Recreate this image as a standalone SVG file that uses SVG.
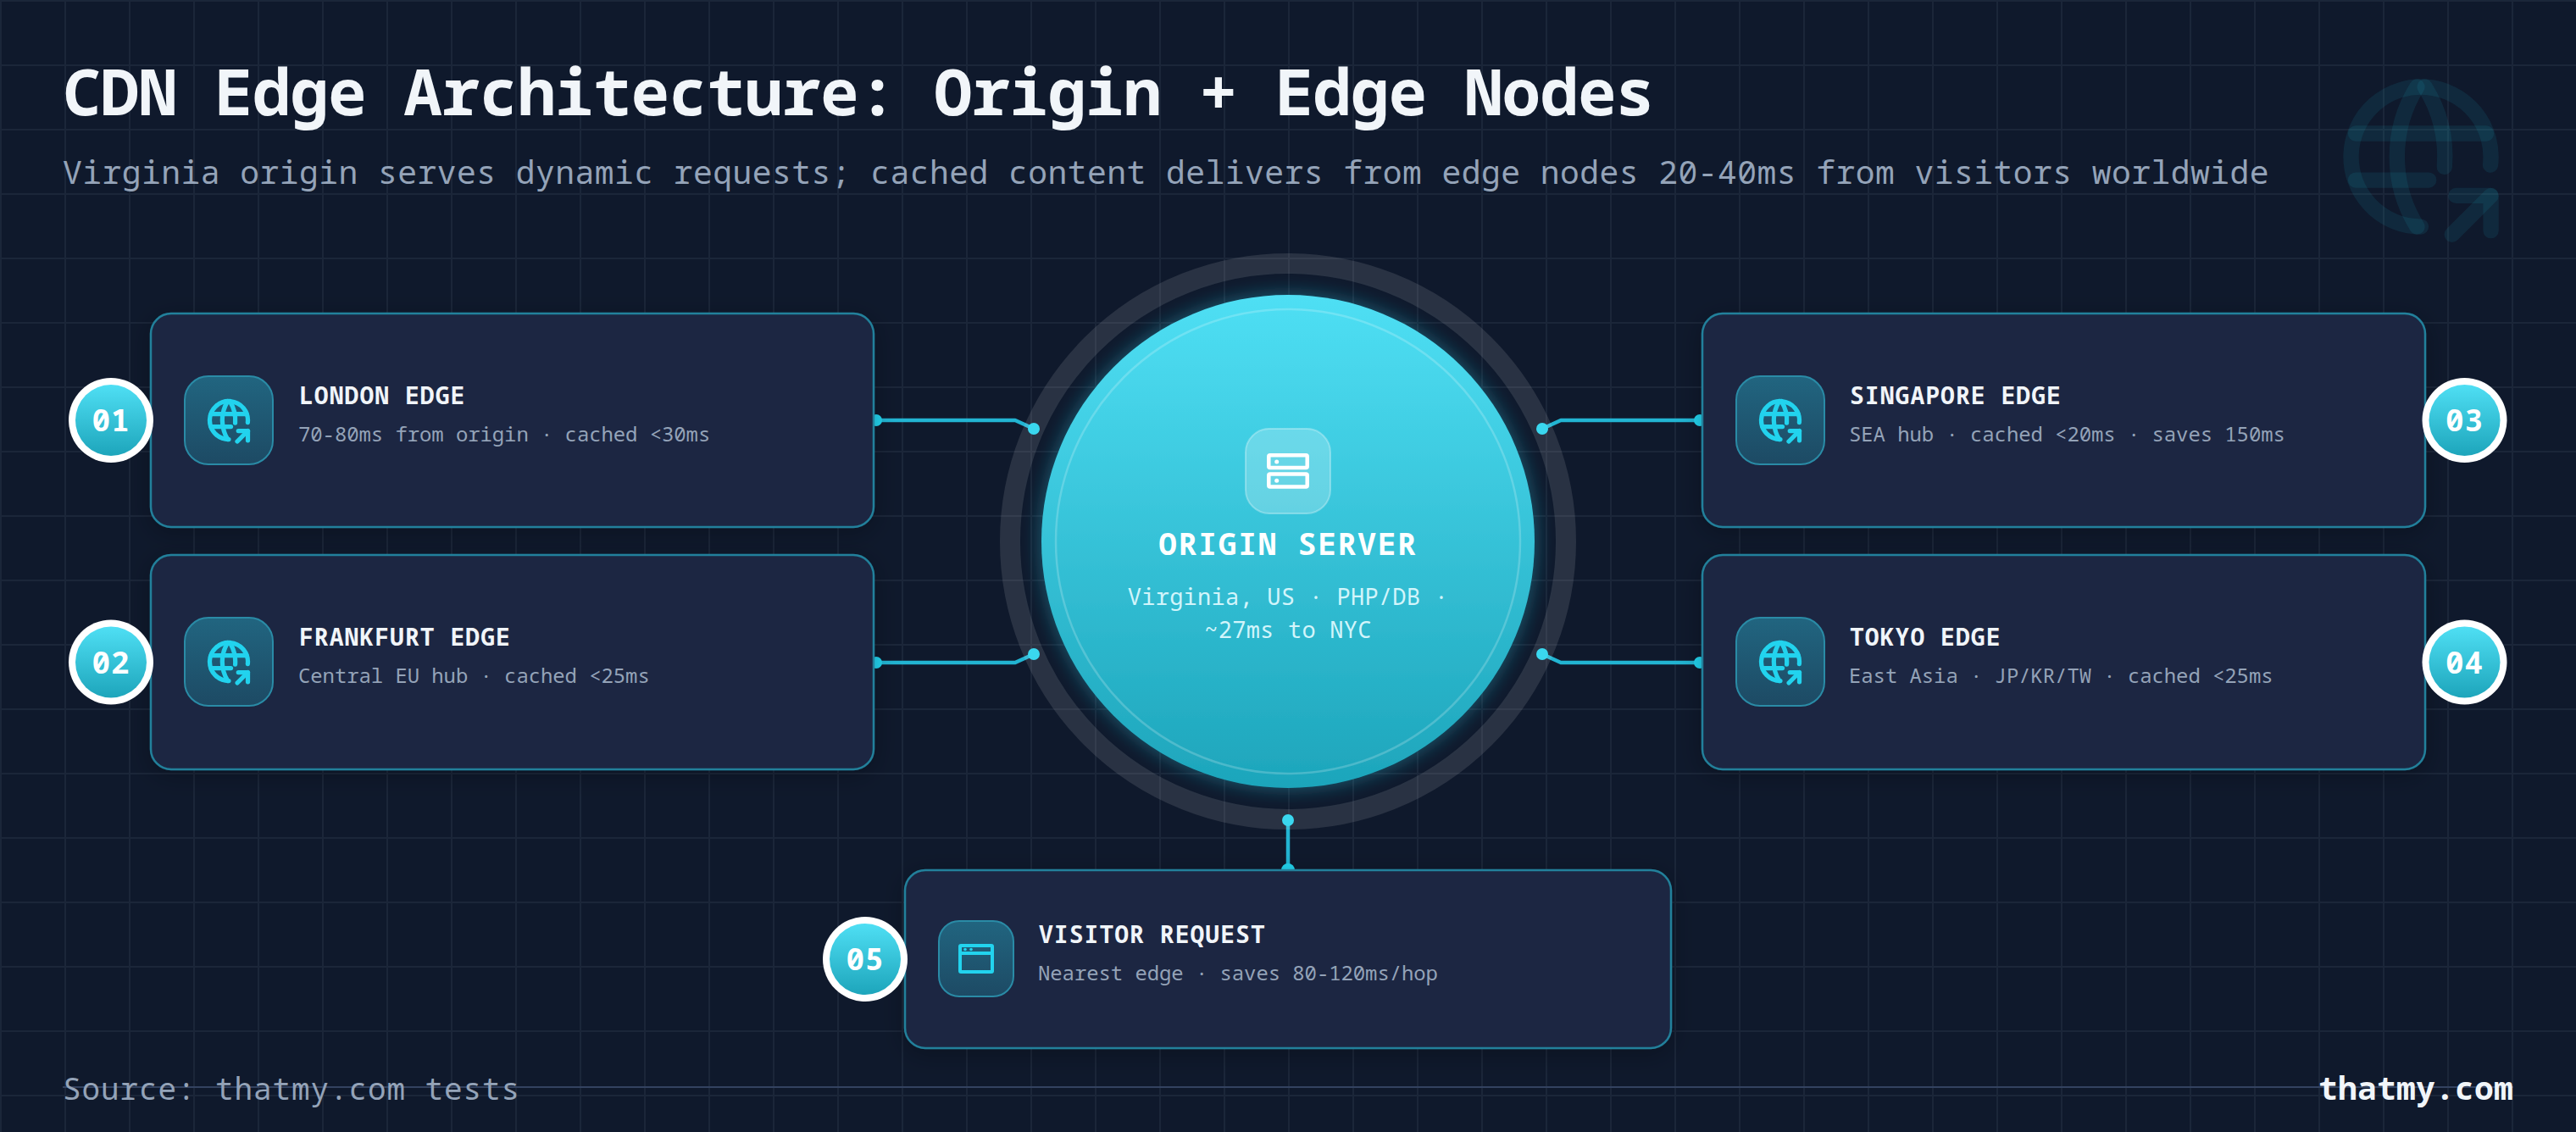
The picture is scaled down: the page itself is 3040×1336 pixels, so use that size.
<svg xmlns="http://www.w3.org/2000/svg" width="3040" height="1336" viewBox="0 0 3040 1336">
<style>
text{font-family:"Noto Sans Mono","DejaVu Sans Mono",monospace}
.card{fill:#1b2842;stroke:#22809b;stroke-width:2.5;filter:url(#cs)}
.ibox{fill:url(#ig);stroke:#2a8ba6;stroke-width:2}
.ic{fill:none;stroke:#22d3ee;stroke-width:2.100;stroke-linecap:round;stroke-linejoin:round}
.t{font-size:28px;font-weight:700;fill:#f1f5f9;letter-spacing:1.050px}
.s{font-size:24px;fill:#94a3b8;letter-spacing:-.1px}
.bo{fill:#fff}
.bi{fill:url(#cg)}
.bt{font-size:36px;font-weight:700;fill:#fff;text-anchor:middle;letter-spacing:1px}
.cn{fill:none;stroke:#22b4d2;stroke-width:4.500;stroke-linejoin:round}
.dot{fill:#22d3ee}
</style>
<defs>
<pattern id="grid" width="76" height="76" patternUnits="userSpaceOnUse"><path d="M0 0H76V2H0ZM0 2H2V76H0Z" fill="#94a3b8" fill-opacity=".09"/></pattern>
<linearGradient id="cg" x1="0" y1="0" x2="0" y2="1"><stop offset="0" stop-color="#4fdff4"/><stop offset="1" stop-color="#1da5bb"/></linearGradient>
<linearGradient id="ig" x1="0" y1="0" x2="0" y2="1"><stop offset="0" stop-color="#216580"/><stop offset="1" stop-color="#1d4a64"/></linearGradient>
<filter id="cs" x="-10%" y="-15%" width="120%" height="135%"><feDropShadow dx="0" dy="6" stdDeviation="14" flood-color="#000" flood-opacity=".25"/></filter>
<filter id="gl" x="-20%" y="-20%" width="140%" height="140%"><feDropShadow dx="0" dy="0" stdDeviation="12" flood-color="#22d3ee" flood-opacity=".4"/></filter>
<g id="ws"><path d="M20.94 13.045a9 9 0 1 0-8.953 7.955"/><path d="M3.6 9h16.8"/><path d="M3.6 15h9.4"/><path d="M11.5 3a17 17 0 0 0 0 18"/><path d="M12.5 3a16.991 16.991 0 0 1 2.529 10.294"/><path d="M16 22l5-5"/><path d="M21 21.5v-4.5h-4.5"/></g>
</defs>
<rect width="3040" height="1336" fill="#0f192c"/>
<rect width="3040" height="1336" fill="url(#grid)"/>
<use href="#ws" transform="translate(2747 75) scale(9.17)" fill="none" stroke="#22d3ee" stroke-opacity=".09" stroke-width="2" stroke-linecap="round" stroke-linejoin="round"/>
<text x="74" y="136" font-size="76" font-weight="700" fill="#f1f5f9" letter-spacing="-.9">CDN Edge Architecture: Origin + Edge Nodes</text>
<text x="74" y="217" font-size="38" fill="#94a3b8" letter-spacing=".45">Virginia origin serves dynamic requests; cached content delivers from edge nodes 20-40ms from visitors worldwide</text>
<g id="footer"><path d="M74 1283H2966" stroke="#334260" stroke-width="2"/>
<text x="74" y="1298" font-size="36" fill="#94a3b8" letter-spacing=".9">Source: thatmy.com tests</text>
<text x="2966" y="1298" font-size="38" font-weight="700" fill="#f1f5f9" text-anchor="end" letter-spacing=".2">thatmy.com</text></g>
<g id="connectors">
<path class="cn" d="M1033 496H1198L1220 506"/><path class="cn" d="M1033 782H1198L1220 772"/>
<path class="cn" d="M2007 496H1842L1820 506"/><path class="cn" d="M2007 782H1842L1820 772"/>
<path class="cn" d="M1520 968V1027"/>
<circle class="dot" cx="1034" cy="496" r="7"/><circle class="dot" cx="1034" cy="782" r="7"/><circle class="dot" cx="2006" cy="496" r="7"/><circle class="dot" cx="2006" cy="782" r="7"/><circle class="dot" cx="1520" cy="1027" r="8"/>
<circle class="dot" cx="1220" cy="506" r="7"/><circle class="dot" cx="1220" cy="772" r="7"/><circle class="dot" cx="1820" cy="506" r="7"/><circle class="dot" cx="1820" cy="772" r="7"/><circle class="dot" cx="1520" cy="968" r="7"/>
</g>
<g id="origin">
<circle cx="1520" cy="639" r="328" fill="none" stroke="#fff" stroke-opacity=".11" stroke-width="24"/>
<circle cx="1520" cy="639" r="291" fill="url(#cg)" filter="url(#gl)"/>
<circle cx="1520" cy="639" r="274" fill="none" stroke="#fff" stroke-opacity=".2" stroke-width="2.5"/>
<rect x="1470" y="506" width="100" height="100" rx="28" fill="#fff" fill-opacity=".22" stroke="#fff" stroke-opacity=".3" stroke-width="2"/>
<g fill="none" stroke="#fff" stroke-width="4.500"><rect x="1497.300" y="537.300" width="45.400" height="14.600" rx="1.500"/><rect x="1497.300" y="559.600" width="45.400" height="14.800" rx="1.500"/></g>
<circle cx="1506.700" cy="545" r="2.500" fill="#fff"/><circle cx="1506.700" cy="567.300" r="2.500" fill="#fff"/>
<text x="1520" y="655" font-size="36" font-weight="700" fill="#fff" text-anchor="middle" letter-spacing="1.900">ORIGIN SERVER</text>
<text x="1520" y="713.500" font-size="27" fill="#d2f5fb" text-anchor="middle" letter-spacing=".25">Virginia, US · PHP/DB ·</text>
<text x="1520" y="753" font-size="27" fill="#d2f5fb" text-anchor="middle" letter-spacing=".25">~27ms to NYC</text>
</g>
<g id="node-01">
<rect class="card" x="178" y="370" width="853" height="252" rx="24"/>
<circle class="bo" cx="131" cy="496" r="50"/><circle class="bi" cx="131" cy="496" r="42"/>
<text class="bt" x="131" y="509">01</text>
<rect class="ibox" x="218" y="444" width="104" height="104" rx="28"/>
<use class="ic" href="#ws" transform="translate(240 466) scale(2.5)"/>
<text class="t" x="353" y="477">LONDON EDGE</text>
<text class="s" x="352" y="521">70-80ms from origin · cached &lt;30ms</text>
</g>
<g id="node-02">
<rect class="card" x="178" y="655" width="853" height="253" rx="24"/>
<circle class="bo" cx="131" cy="781.500" r="50"/><circle class="bi" cx="131" cy="781.500" r="42"/>
<text class="bt" x="131" y="794.500">02</text>
<rect class="ibox" x="218" y="729" width="104" height="104" rx="28"/>
<use class="ic" href="#ws" transform="translate(240 751) scale(2.5)"/>
<text class="t" x="353" y="762">FRANKFURT EDGE</text>
<text class="s" x="352" y="806">Central EU hub · cached &lt;25ms</text>
</g>
<g id="node-03">
<rect class="card" x="2009" y="370" width="853" height="252" rx="24"/>
<circle class="bo" cx="2908.500" cy="496" r="50"/><circle class="bi" cx="2908.500" cy="496" r="42"/>
<text class="bt" x="2908.500" y="509">03</text>
<rect class="ibox" x="2049" y="444" width="104" height="104" rx="28"/>
<use class="ic" href="#ws" transform="translate(2071 466) scale(2.5)"/>
<text class="t" x="2183" y="477">SINGAPORE EDGE</text>
<text class="s" x="2182" y="521">SEA hub · cached &lt;20ms · saves 150ms</text>
</g>
<g id="node-04">
<rect class="card" x="2009" y="655" width="853" height="253" rx="24"/>
<circle class="bo" cx="2908.500" cy="781.500" r="50"/><circle class="bi" cx="2908.500" cy="781.500" r="42"/>
<text class="bt" x="2908.500" y="794.500">04</text>
<rect class="ibox" x="2049" y="729" width="104" height="104" rx="28"/>
<use class="ic" href="#ws" transform="translate(2071 751) scale(2.5)"/>
<text class="t" x="2183" y="762">TOKYO EDGE</text>
<text class="s" x="2182" y="806">East Asia · JP/KR/TW · cached &lt;25ms</text>
</g>
<g id="node-05">
<rect class="card" x="1068" y="1027" width="904" height="210" rx="24"/>
<circle class="bo" cx="1021" cy="1132" r="50"/><circle class="bi" cx="1021" cy="1132" r="42"/>
<text class="bt" x="1021" y="1145">05</text>
<rect class="ibox" x="1108" y="1087" width="88" height="89" rx="24"/>
<rect x="1133" y="1116" width="38" height="31" rx="1" fill="none" stroke="#22d3ee" stroke-width="4"/>
<path d="M1133 1125H1171" stroke="#22d3ee" stroke-width="4"/>
<circle class="dot" cx="1139" cy="1120.500" r="1.800"/><circle class="dot" cx="1146" cy="1120.500" r="1.800"/>
<text class="t" x="1226" y="1113">VISITOR REQUEST</text>
<text class="s" x="1225" y="1157">Nearest edge · saves 80-120ms/hop</text>
</g>
</svg>
